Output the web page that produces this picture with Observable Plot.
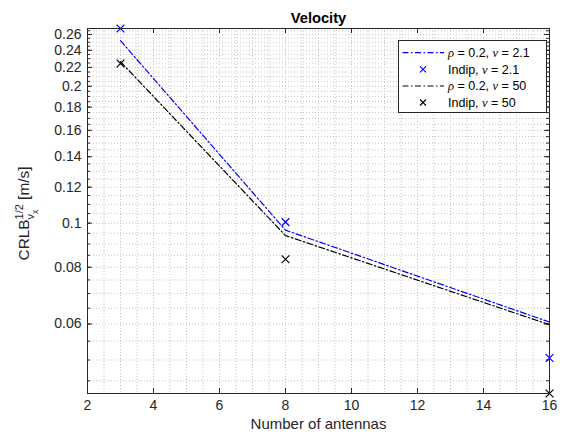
<!DOCTYPE html>
<html>
<head>
<meta charset="utf-8">
<script src="https://cdn.jsdelivr.net/npm/d3@7"></script>
<script src="https://cdn.jsdelivr.net/npm/@observablehq/plot@0.6"></script>
<style>
  html, body { margin: 0; padding: 0; background: #fff; }
</style>
</head>
<body>
<div id="chart"></div>
<script>
// ---- data ----
const antennas = [3, 8, 16];
const rhoNu21 = [0.252, 0.0965, 0.0606];     // rho = 0.2, nu = 2.1 (blue dash-dot)
const indipNu21 = [0.268, 0.1005, 0.0505];   // Indip, nu = 2.1 (blue x)
const rhoNu50 = [0.2265, 0.0939, 0.0598];    // rho = 0.2, nu = 50 (black dash-dot)
const indipNu50 = [0.2245, 0.0833, 0.0422];  // Indip, nu = 50 (black x)

const xTicks = [2, 4, 6, 8, 10, 12, 14, 16];
const yTicks = [0.06, 0.08, 0.1, 0.12, 0.14, 0.16, 0.18, 0.2, 0.22, 0.24, 0.26];
const titleText = "Velocity";
const xLabel = "Number of antennas";

// ---- layout ----
const W = 562, H = 439;
const mL = 87, mR = 13, mT = 28, mB = 46;
const fW = W - mL - mR, fH = H - mT - mB;
const FONT = "'Liberation Sans', Arial, Helvetica, sans-serif";
const INK = "#262626";

const xMinor = d3.range(2, 16.001, 0.5);
const yMinor = d3.range(45, 268, 5).map(v => v / 1000);
const allY = [...rhoNu21, ...indipNu21, ...rhoNu50, ...indipNu50];
const yDomain = d3.extent(allY);

const mk = (ys) => antennas.map((a, i) => ({x: a, y: ys[i]}));
const gridStyle = {stroke: "#c4c4c4", strokeOpacity: 1, strokeWidth: 1, strokeDasharray: "1,2"};
const dash = "6,2.5,1.5,2.5";

const chart = Plot.plot({
  width: W, height: H,
  marginLeft: mL, marginRight: mR, marginTop: mT, marginBottom: mB,
  style: {fontFamily: FONT, fontSize: "14px", color: INK, background: "white"},
  x: {domain: [2, 16]},
  y: {type: "log", domain: yDomain},
  marks: [
    Plot.gridX(xMinor, gridStyle),
    Plot.gridY(yMinor, gridStyle),
    // inward ticks
    Plot.tickX(xTicks, {x: d => d, insetTop: fH - 5, stroke: INK}),
    Plot.tickX(xTicks, {x: d => d, insetBottom: fH - 5, stroke: INK}),
    Plot.tickY(yMinor, {y: d => d, insetRight: fW - 3, stroke: INK}),
    Plot.tickY(yMinor, {y: d => d, insetLeft: fW - 3, stroke: INK}),
    Plot.tickY(yTicks, {y: d => d, insetRight: fW - 5, stroke: INK}),
    Plot.tickY(yTicks, {y: d => d, insetLeft: fW - 5, stroke: INK}),
    Plot.axisX(xTicks, {tickSize: 0, tickPadding: 7, tickFormat: d => String(d), label: null, fontSize: 14}),
    Plot.axisY(yTicks, {tickSize: 0, tickPadding: 6, tickFormat: d => String(+d.toFixed(2)), label: null, fontSize: 14}),
    Plot.lineY(mk(rhoNu21), {x: "x", y: "y", stroke: "#0000ff", strokeWidth: 1.2, strokeDasharray: dash}),
    Plot.lineY(mk(rhoNu50), {x: "x", y: "y", stroke: "#000000", strokeWidth: 1.2, strokeDasharray: dash}),
    Plot.dot(mk(indipNu21), {x: "x", y: "y", symbol: "times", r: 3.6, stroke: "#0000ff", strokeWidth: 1.2}),
    Plot.dot(mk(indipNu50), {x: "x", y: "y", symbol: "times", r: 3.6, stroke: "#000000", strokeWidth: 1.2}),
    Plot.frame({stroke: INK, strokeWidth: 1}),
    Plot.text([titleText], {frameAnchor: "top", dy: -16, fontWeight: "bold", fontSize: 14.7, fill: "#000"}),
    Plot.text([xLabel], {frameAnchor: "bottom", dy: 35, fontSize: 15, fill: INK})
  ]
});

document.getElementById("chart").appendChild(chart);

// ---- y label with TeX-like super/subscripts ----
const svg = d3.select(chart);
const yl = svg.append("text")
  .attr("transform", `translate(29,${mT + fH / 2 + 3}) rotate(-90)`)
  .attr("text-anchor", "middle")
  .attr("font-family", FONT)
  .attr("font-size", 15.4)
  .attr("fill", INK);
yl.append("tspan").text("CRLB");
yl.append("tspan").attr("dy", -6.5).attr("font-size", 11).text("1/2");
yl.append("tspan").attr("dx", -15.3).attr("dy", 11).attr("font-size", 11).text("v");
yl.append("tspan").attr("dy", 4).attr("font-size", 8.5).text("x");
yl.append("tspan").attr("dx", 5.5).attr("dy", -8.5).attr("font-size", 15.4).text("\u00a0[m/s]");

// ---- legend ----
const lg = svg.append("g").attr("font-family", FONT).attr("font-size", 12.5).attr("fill", "#000")
  .attr("text-anchor", "start");
lg.append("rect").attr("x", 398.5).attr("y", 40.5).attr("width", 148).attr("height", 72)
  .attr("fill", "white").attr("stroke", INK).attr("stroke-width", 1);
const entries = [
  {kind: "line", color: "#0000ff", sym: "\u03c1", val: "0.2, ", sym2: "\u03bd", val2: "2.1"},
  {kind: "x", color: "#0000ff", label: "Indip, ", sym2: "\u03bd", val2: "2.1"},
  {kind: "line", color: "#000000", sym: "\u03c1", val: "0.2, ", sym2: "\u03bd", val2: "50"},
  {kind: "x", color: "#000000", label: "Indip, ", sym2: "\u03bd", val2: "50"}
];
const ys = [52.7, 69.3, 86, 102.5];
entries.forEach((e, i) => {
  const y = ys[i];
  if (e.kind === "line") {
    lg.append("line").attr("x1", 402.5).attr("x2", 444).attr("y1", y).attr("y2", y)
      .attr("stroke", e.color).attr("stroke-width", 1.2).attr("stroke-dasharray", dash);
  } else {
    const s = 3;
    lg.append("path").attr("d", `M${423 - s},${y - s}L${423 + s},${y + s}M${423 - s},${y + s}L${423 + s},${y - s}`)
      .attr("stroke", e.color).attr("stroke-width", 1.2).attr("fill", "none");
  }
  const t = lg.append("text").attr("x", 448).attr("y", y + 4.4).attr("text-anchor", "start");
  if (e.sym) {
    t.append("tspan").attr("font-family", "'Liberation Serif', 'DejaVu Serif', serif").attr("font-style", "italic").text(e.sym);
    t.append("tspan").text(" = " + e.val);
  } else {
    t.append("tspan").text(e.label);
  }
  t.append("tspan").attr("font-family", "'Liberation Serif', 'DejaVu Serif', serif").attr("font-style", "italic").text(e.sym2);
  t.append("tspan").text(" = " + e.val2);
});
</script>
</body>
</html>
